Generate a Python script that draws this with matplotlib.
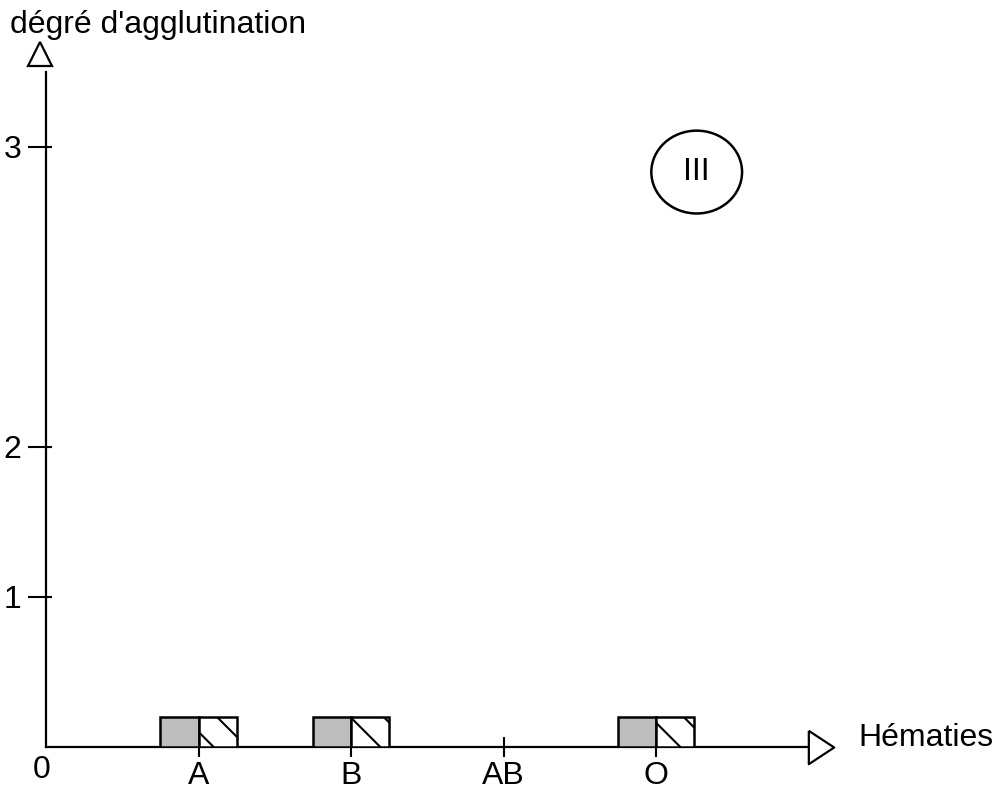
import numpy as np
import matplotlib.pyplot as plt
from matplotlib.patches import Ellipse

# données (degré d'agglutination par type d'hématies)
categories = ['A', 'B', 'AB', 'O']
serum_gris = [0.2, 0.2, 0.0, 0.2]
serum_hachure = [0.2, 0.2, 0.0, 0.2]
y_ticks = [1, 2, 3]

plt.rcParams['font.family'] = ['Liberation Sans', 'DejaVu Sans']
plt.rcParams['hatch.linewidth'] = 1.5
fs = 23

# l'axe vertical est compressé au-dessus de 2 (le 3 est placé deux fois plus loin)
def fwd(y):
    y = np.asarray(y, dtype=float)
    return np.where(y <= 2, y, 2 + 2 * (y - 2))

def inv(d):
    d = np.asarray(d, dtype=float)
    return np.where(d <= 2, d, 2 + (d - 2) / 2)

W, H = 1001, 792
fig = plt.figure(figsize=(W / 100, H / 100), dpi=100)
ax = fig.add_axes([40 / W, 45 / H, 796 / W, 702 / H])
ax.set_yscale('function', functions=(fwd, inv))
ax.set_xlim(-0.04, 5.18)
ax.set_ylim(0, 3.34)
for s in ax.spines.values():
    s.set_visible(False)

x = np.arange(1, len(categories) + 1)
bw = 0.25
for xi, g, h in zip(x, serum_gris, serum_hachure):
    if g > 0:
        ax.bar(xi, g, width=-bw, align='edge', color='#bdbdbd',
               edgecolor='black', linewidth=1.8, zorder=3)
    if h > 0:
        ax.bar(xi, h, width=bw, align='edge', color='white', hatch='\\',
               edgecolor='black', linewidth=1.8, zorder=3)

# axes avec flèches creuses
ax.plot([0, 5.0], [0, 0], color='black', lw=1.6, clip_on=False, zorder=2)
ax.plot([0, 0], [0, 3.25], color='black', lw=1.6, clip_on=False, zorder=2)
ax.plot(5.08, 0, marker=[(-0.76, 1), (-0.76, -1), (0.76, 0), (-0.76, 1)],
        ms=24, mfc='white', mec='black', mew=1.6, clip_on=False, zorder=4)
ax.plot(-0.04, 3.31, marker='^', ms=17, mfc='white', mec='black', mew=1.6,
        clip_on=False, zorder=4)

ax.set_xticks(x)
ax.set_xticklabels(categories)
ax.set_yticks(y_ticks)
ax.set_yticklabels([str(t) for t in y_ticks])
ax.tick_params(axis='x', direction='inout', length=14, width=1.5, pad=3,
               labelsize=fs)
ax.tick_params(axis='y', direction='inout', length=17, width=1.5, pad=5,
               labelsize=fs)

ax.annotate('0', xy=(0, 0), xytext=(-3, -6), textcoords='offset points',
            ha='center', va='top', fontsize=fs)

fig.text(10 / W, 1 - 33 / H, "dégré d'agglutination", ha='left',
         va='baseline', fontsize=fs)
fig.text(858 / W, 1 - 746 / H, 'Hématies', ha='left', va='baseline',
         fontsize=fs)

# cartouche III
ax.add_patch(Ellipse((0.825, 0.819), 0.114, 0.118, transform=ax.transAxes,
                     fill=False, edgecolor='black', lw=1.8, clip_on=False))
ax.text(0.825, 0.819, 'III', transform=ax.transAxes, ha='center',
        va='center', fontsize=fs)

fig.savefig('out.png', dpi=100)
